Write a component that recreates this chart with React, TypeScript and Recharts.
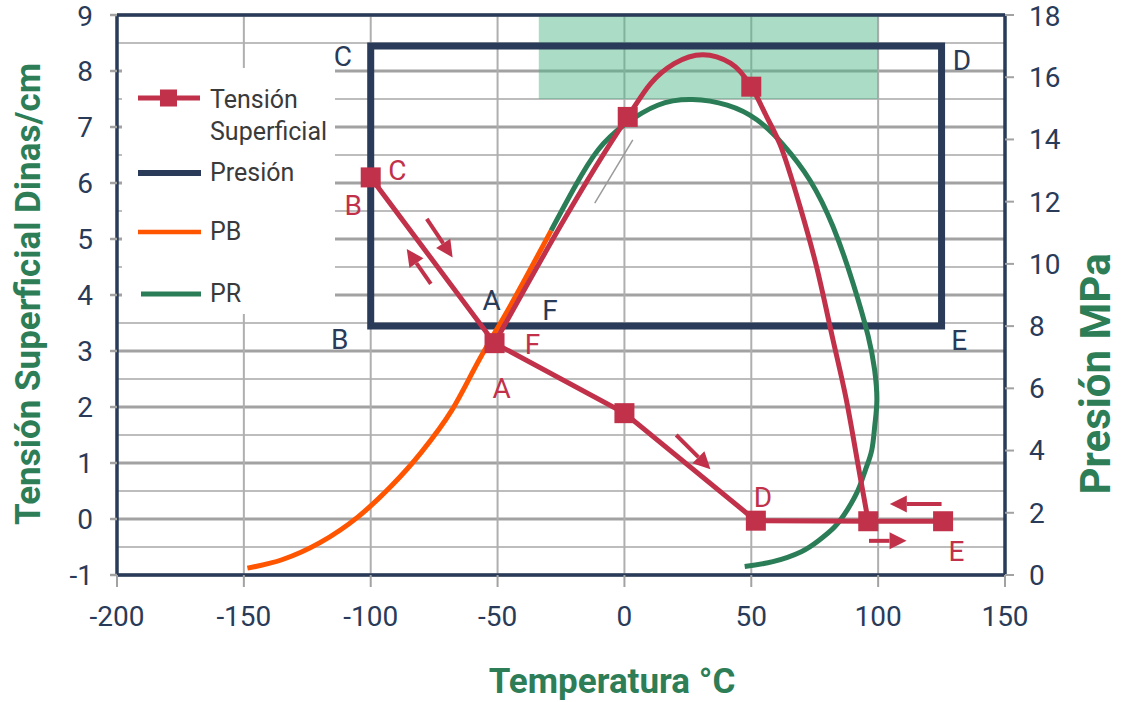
import {
  CartesianGrid,
  ComposedChart,
  Label,
  Legend,
  Line,
  ReferenceArea,
  ReferenceDot,
  ReferenceLine,
  Scatter,
  XAxis,
  YAxis,
} from 'recharts';

const NAVY = '#293b58';
const RED = '#c1314a';
const ORANGE = '#ff5500';
const GREEN = '#2a7d56';
const TITLE_GREEN = '#2d7d57';
const FONT = 'Roboto, "Noto Sans", sans-serif';

// ejes
const tempTicks = [-200, -150, -100, -50, 0, 50, 100, 150];
const tensionTicks = [-1, 0, 1, 2, 3, 4, 5, 6, 7, 8, 9];
const presionTicks = [0, 2, 4, 6, 8, 10, 12, 14, 16, 18];
const halfLines = [-0.5, 0.5, 1.5, 2.5, 3.5, 4.5, 5.5, 6.5, 7.5, 8.5];

// Tensión superficial (Dinas/cm) - rama C, A, D, E
const lowTemp = [-100, -51.2, 0, 51.8, 96.1, 125.6];
const lowTension = [6.1, 3.14, 1.89, -0.03, -0.04, -0.04];

// Tensión superficial - rama A, F, ..., E
const highTemp = [-51.2, 1.3, 10.4, 19.6, 30.9, 41.8, 50, 56.1, 61.4, 69.2, 75.7, 82.2, 87.5, 92.9, 96.1];
const highTension = [3.14, 7.18, 7.78, 8.13, 8.29, 8.14, 7.72, 7.18, 6.68, 5.58, 4.51, 3.2, 2.12, 0.76, -0.04];

// puntos marcados
const markTemp = [-100, -51.2, 0, 51.8, 96.1, 125.6, 1.3, 50];
const markTension = [6.1, 3.14, 1.89, -0.03, -0.04, -0.04, 7.18, 7.72];

// Presión (MPa): recorrido B-C-D-E-B
const presTemp = [-100, -100, 125, 125, -100];
const presValue = [8, 17, 17, 8, 8];

// PB
const pbTemp = [-148.6, -135, -120, -105, -92, -80, -68, -57, -45, -28.9];
const pbValue = [0.22, 0.49, 1.04, 1.87, 2.85, 3.95, 5.3, 6.95, 8.65, 11.07];

// PR
const prTemp = [
  -28.9, -19.6, -10.4, 0, 13.1, 26.8, 40.5, 52.2, 62.7, 73.1, 82.2, 90.1, 96, 98.6, 99.5,
  98.7, 97.5, 95, 92.1, 87.9, 82.9, 76.6, 69.7, 58.5, 47.4,
];
const prValue = [
  11.07, 12.47, 13.66, 14.47, 15.1, 15.28, 15.1, 14.63, 13.82, 12.69, 11.2, 9.38, 7.7, 6.6, 5.63,
  4.82, 4.02, 3.38, 2.73, 2.1, 1.55, 1.11, 0.75, 0.43, 0.27,
];

// flechas (en escala de tensión)
const arrows = [
  { x1: -77.9, y1: 5.36, x2: -67.7, y2: 4.67 },
  { x1: -76.3, y1: 4.2, x2: -85.8, y2: 4.82 },
  { x1: 20.4, y1: 1.5, x2: 33.9, y2: 0.89 },
  { x1: 125, y1: 0.27, x2: 104.6, y2: 0.27 },
  { x1: 96.4, y1: -0.39, x2: 111.2, y2: -0.39 },
];

const presionLetters = [
  { text: 'C', x: -111, y: 8.26 },
  { text: 'D', x: 133, y: 8.2 },
  { text: 'B', x: -112.2, y: 3.21 },
  { text: 'E', x: 132, y: 3.2 },
  { text: 'A', x: -52.3, y: 3.91 },
  { text: 'F', x: -29.3, y: 3.73 },
];

const tensionLetters = [
  { text: 'C', x: -89.5, y: 6.23 },
  { text: 'B', x: -106.9, y: 5.61 },
  { text: 'A', x: -48.4, y: 2.33 },
  { text: 'F', x: -36.2, y: 3.13 },
  { text: 'D', x: 54.6, y: 0.4 },
  { text: 'E', x: 130.9, y: -0.58 },
];

const legendNames = ['Tensión Superficial', 'Presión', 'PB', 'PR'];

const toPoints = (xs: number[], ys: number[]) => xs.map((x, i) => ({ x, y: ys[i] }));

function Arrow(props: any) {
  const { x1, y1, x2, y2 } = props;
  const len = Math.hypot(x2 - x1, y2 - y1) || 1;
  const ux = (x2 - x1) / len;
  const uy = (y2 - y1) / len;
  const bx = x2 - ux * 17;
  const by = y2 - uy * 17;
  const px = -uy * 8.5;
  const py = ux * 8.5;
  return (
    <g>
      <line x1={x1} y1={y1} x2={bx} y2={by} stroke={RED} strokeWidth={4} />
      <polygon points={`${x2},${y2} ${bx + px},${by + py} ${bx - px},${by - py}`} fill={RED} />
    </g>
  );
}

function MarkerSquare(props: any) {
  return <rect x={props.cx - 10} y={props.cy - 10} width={20} height={20} fill={RED} />;
}

function LegendBox() {
  const rows = [30, 105, 164, 226];
  const icon = (i: number) => {
    if (i === 0)
      return (
        <svg width={70} height={24}>
          <line x1={0} y1={12} x2={62} y2={12} stroke={RED} strokeWidth={5} />
          <rect x={22} y={3.5} width={17} height={17} fill={RED} />
        </svg>
      );
    const color = [RED, NAVY, ORANGE, GREEN][i];
    const w = [5, 6, 4.5, 5][i];
    return (
      <svg width={70} height={24}>
        <line x1={i === 3 ? 3 : 0} y1={12} x2={63} y2={12} stroke={color} strokeWidth={w} />
      </svg>
    );
  };
  return (
    <div style={{ position: 'relative', width: 213, height: 246, background: '#fff' }}>
      {legendNames.map((name, i) => (
        <div key={name}>
          <div style={{ position: 'absolute', left: 16, top: rows[i] - 12, height: 24 }}>{icon(i)}</div>
          <div
            style={{
              position: 'absolute',
              left: 88,
              top: i === 0 ? rows[i] - 14 : rows[i] - 16,
              width: 122,
              fontFamily: FONT,
              fontSize: 25,
              lineHeight: '32px',
              color: '#3a3a3a',
            }}
          >
            {name}
          </div>
        </div>
      ))}
    </div>
  );
}

const leftTitle = ({ viewBox }: any) => {
  const cx = viewBox.x - 19;
  const cy = viewBox.y + viewBox.height / 2 - 1;
  return (
    <text x={cx} y={cy} transform={`rotate(-90 ${cx} ${cy})`} textAnchor="middle" dominantBaseline="central"
      fill={TITLE_GREEN} fontFamily={FONT} fontSize={35} fontWeight={700}>
      Tensión Superficial Dinas/cm
    </text>
  );
};

const rightTitle = ({ viewBox }: any) => {
  const cx = viewBox.x + 90;
  const cy = viewBox.y + 359;
  return (
    <text x={cx} y={cy} transform={`rotate(-90 ${cx} ${cy})`} textAnchor="middle" dominantBaseline="central"
      fill={TITLE_GREEN} fontFamily={FONT} fontSize={42} fontWeight={700}>
      Presión MPa
    </text>
  );
};

const bottomTitle = ({ viewBox }: any) => (
  <text x={viewBox.x + 495} y={viewBox.y + 106} textAnchor="middle" dominantBaseline="central"
    fill={TITLE_GREEN} fontFamily={FONT} fontSize={35} fontWeight={700}>
    Temperatura °C
  </text>
);

export default function App() {
  const tickStyle = { fill: NAVY, fontSize: 28, fontFamily: FONT };
  return (
    <div style={{ position: 'absolute', left: 0, top: 0, width: 1121, height: 702, background: '#fff' }}>
      <ComposedChart width={1121} height={702} margin={{ top: 15, right: 36, bottom: 57, left: 47 }}>
        <CartesianGrid yAxisId="left" vertical={false} horizontalValues={halfLines} stroke="#bdbdbd" strokeWidth={2} />
        <CartesianGrid yAxisId="left" vertical={false} stroke="#a2a2a2" strokeWidth={3} />
        <CartesianGrid yAxisId="left" horizontal={false} stroke="#afafaf" strokeWidth={2} />

        <XAxis
          dataKey="x"
          type="number"
          domain={[-200, 150]}
          ticks={tempTicks}
          height={70}
          tickSize={12}
          tickMargin={19}
          tick={tickStyle}
          axisLine={{ stroke: NAVY, strokeWidth: 3.5 }}
          tickLine={{ stroke: '#a2a2a2', strokeWidth: 2 }}
          allowDataOverflow
        >
          <Label content={bottomTitle} />
        </XAxis>
        <YAxis
          yAxisId="left"
          dataKey="y"
          type="number"
          domain={[-1, 9]}
          ticks={tensionTicks}
          width={70}
          tickSize={7}
          tickMargin={17}
          tick={tickStyle}
          axisLine={{ stroke: NAVY, strokeWidth: 3.5 }}
          tickLine={{ stroke: '#a2a2a2', strokeWidth: 2.5 }}
          allowDataOverflow
        >
          <Label content={leftTitle} />
        </YAxis>
        <YAxis
          yAxisId="right"
          orientation="right"
          dataKey="y"
          type="number"
          domain={[0, 18]}
          ticks={presionTicks}
          width={80}
          tickSize={9}
          tickMargin={15}
          tick={tickStyle}
          axisLine={{ stroke: NAVY, strokeWidth: 3.5 }}
          tickLine={{ stroke: '#a2a2a2', strokeWidth: 2 }}
          allowDataOverflow
        >
          <Label content={rightTitle} />
        </YAxis>

        <ReferenceArea yAxisId="left" x1={-33.75} x2={100} y1={7.5} y2={9} fill="#4fb586" fillOpacity={0.48} stroke="none" />
        <ReferenceLine yAxisId="left" y={9} stroke={NAVY} strokeWidth={3.5} />

        <Line
          yAxisId="right"
          data={toPoints(presTemp, presValue)}
          dataKey="y"
          type="linear"
          stroke={NAVY}
          strokeWidth={7}
          strokeLinecap="square"
          dot={false}
          isAnimationActive={false}
        />
        <Line yAxisId="right" data={toPoints(pbTemp, pbValue)} dataKey="y" type="monotone" stroke={ORANGE} strokeWidth={5} dot={false} isAnimationActive={false} />
        <Line yAxisId="right" data={toPoints(prTemp, prValue)} dataKey="y" type="natural" stroke={GREEN} strokeWidth={5} dot={false} isAnimationActive={false} />

        <ReferenceLine yAxisId="left" segment={[{ x: -11.7, y: 5.64 }, { x: 3.3, y: 6.77 }]} stroke="#9a9a9a" strokeWidth={1.5} />

        <Line yAxisId="left" data={toPoints(lowTemp, lowTension)} dataKey="y" type="linear" stroke={RED} strokeWidth={5} dot={false} isAnimationActive={false} />
        <Line yAxisId="left" data={toPoints(highTemp, highTension)} dataKey="y" type="monotone" stroke={RED} strokeWidth={5} dot={false} isAnimationActive={false} />
        <Scatter yAxisId="left" data={toPoints(markTemp, markTension)} dataKey="y" shape={MarkerSquare} isAnimationActive={false} />

        {arrows.map((a, i) => (
          <ReferenceLine
            key={`arrow-${i}`}
            yAxisId="left"
            segment={[{ x: a.x1, y: a.y1 }, { x: a.x2, y: a.y2 }]}
            shape={Arrow}
          />
        ))}

        {presionLetters.map((l, i) => (
          <ReferenceDot
            key={`p-${i}`}
            yAxisId="left"
            x={l.x}
            y={l.y}
            r={0}
            fill="none"
            stroke="none"
            label={{ value: l.text, position: 'center', fill: NAVY, fontSize: 28, fontFamily: FONT }}
          />
        ))}
        {tensionLetters.map((l, i) => (
          <ReferenceDot
            key={`t-${i}`}
            yAxisId="left"
            x={l.x}
            y={l.y}
            r={0}
            fill="none"
            stroke="none"
            label={{ value: l.text, position: 'center', fill: RED, fontSize: 28, fontFamily: FONT }}
          />
        ))}

        <Legend
          layout="vertical"
          align="center"
          verticalAlign="middle"
          content={() => <LegendBox />}
          wrapperStyle={{ position: 'absolute', left: 122, top: 68, width: 213, height: 246 }}
        />
      </ComposedChart>
    </div>
  );
}
